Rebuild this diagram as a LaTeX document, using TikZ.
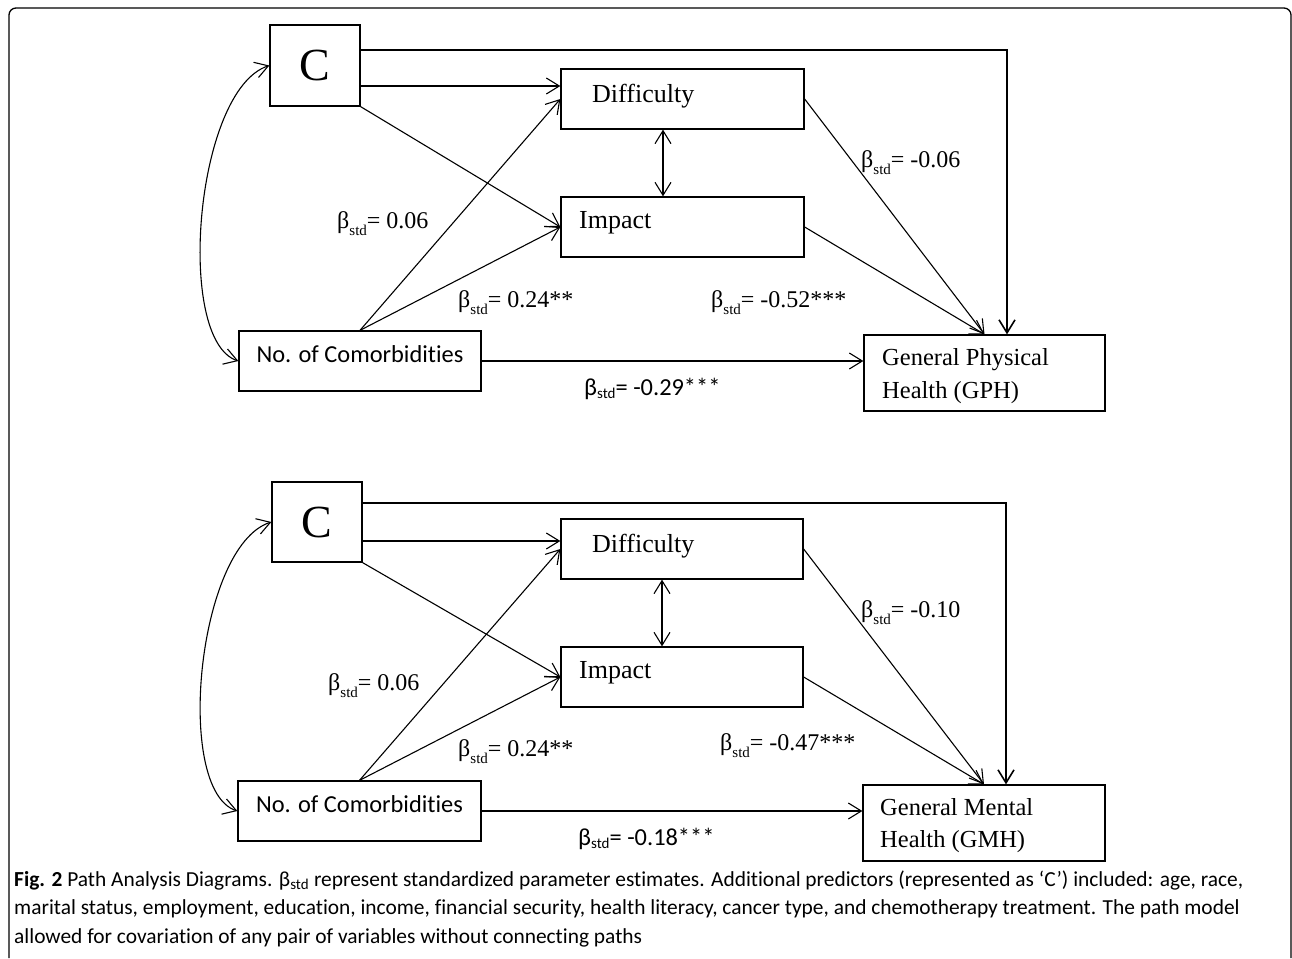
\documentclass[tikz,border=0pt]{standalone}
\usepackage{fontspec}
\setmainfont{Liberation Serif}
\newfontfamily\calibri[Ligatures=NoCommon]{Carlito}
\usetikzlibrary{arrows.meta}

\newcommand{\bstd}[1]{β\raisebox{-7pt}{\fontsize{15}{15}\selectfont std}= #1}
\newcommand{\bstdc}[1]{β\raisebox{-3pt}{\fontsize{15}{15}\selectfont std}= #1}

\begin{document}
\begin{tikzpicture}[x=1pt,y=-1pt]

	\tikzset{box/.style={draw, line width=1.3pt, inner sep=0pt},
		lbl/.style={anchor=base west, inner sep=0pt},
		arr/.style={line width=1.1pt, -{Straight Barb[length=13pt,width=16pt]}},
		dbl/.style={line width=1.1pt, {Straight Barb[length=13pt,width=16pt]}-{Straight Barb[length=13pt,width=16pt]}},
		tnr/.style={font=\fontsize{26}{26}\selectfont},
		tnrs/.style={font=\fontsize{24.5}{24.5}\selectfont},
		big/.style={font=\fontsize{46}{46}\selectfont},
		beta/.style={lbl, font=\fontsize{24}{24}\selectfont},
		cal/.style={font=\calibri\fontsize{24.4}{24.4}\selectfont},
		captext/.style={lbl, font=\calibri\fontsize{21.4}{21.4}\selectfont}}

	\useasboundingbox (0,0) rectangle (1292,958);
	\draw[line width=1.3pt, rounded corners=7pt] (9,958) -- (9,8) -- (1291,8) -- (1291,958);

	% top diagram: physical health
	\node[box, minimum width=90pt, minimum height=81pt, big] (c1) at (315,65.5) {C};
	\node[box, minimum width=243pt, minimum height=60pt] (diff1) at (682.5,99) {};
	\node[lbl, tnr] (diff1t) at (592,102) {Difficulty};
	\node[box, minimum width=243pt, minimum height=60pt] (imp1) at (682.5,227) {};
	\node[lbl, tnr] (imp1t) at (579,228) {Impact};
	\node[box, minimum width=242pt, minimum height=60pt] (com1) at (360,361) {};
	\node[anchor=base, inner sep=0pt, cal] (com1t) at (360,362) {No. of Comorbidities};
	\node[box, minimum width=241pt, minimum height=76pt] (gph1) at (984.5,373) {};
	\node[lbl, tnrs] (gph1a) at (882,365) {General Physical};
	\node[lbl, tnrs] (gph1b) at (882,398) {Health (GPH)};
	\coordinate (cr1) at (1007,50);

	\draw[arr, line width=1.6pt] (c1.east |- cr1) -- (cr1) -- (cr1 |- gph1.north);
	\draw[arr] (c1.east |- 0,86) -- (diff1.west |- 0,86);
	\draw[arr] (c1.south east) -- (imp1.west);
	\draw[arr] (com1.north) -- (diff1.west);
	\draw[arr] (com1.north) -- (imp1.west);
	\draw[dbl] (diff1.south -| 663,0) -- (imp1.north -| 663,0);
	\draw[arr] (diff1.east) -- (gph1.north);
	\draw[arr] (imp1.east) -- (gph1.north);
	\draw[arr] (com1.east) -- (com1.east -| gph1.west);
	\draw[dbl] (c1.west) .. controls (195,90) and (175,340) .. (com1.west);

	\node[beta] (b1a) at (337,228) {\bstd{0.06}};
	\node[beta] (b1b) at (458,307) {\bstd{0.24**}};
	\node[beta] (b1c) at (711,307) {\bstd{-0.52***}};
	\node[beta] (b1d) at (861,167) {\bstd{-0.06}};
	\node[lbl, cal] (b1e) at (584,395) {\bstdc{-0.29***}};

	% bottom diagram: mental health
	\node[box, minimum width=90pt, minimum height=80pt, big] (c2) at (317,522) {C};
	\node[box, minimum width=242pt, minimum height=60pt] (diff2) at (682,549) {};
	\node[lbl, tnr] (diff2t) at (592,552) {Difficulty};
	\node[box, minimum width=242pt, minimum height=60pt] (imp2) at (682,677) {};
	\node[lbl, tnr] (imp2t) at (579,678) {Impact};
	\node[box, minimum width=243pt, minimum height=60pt] (com2) at (359.5,811) {};
	\node[anchor=base, inner sep=0pt, cal] (com2t) at (359.5,812) {No. of Comorbidities};
	\node[box, minimum width=242pt, minimum height=76pt] (gmh2) at (984,823) {};
	\node[lbl, tnrs] (gmh2a) at (880,815) {General Mental};
	\node[lbl, tnrs] (gmh2b) at (880,847) {Health (GMH)};
	\coordinate (cr2) at (1006,503);

	\draw[arr, line width=1.6pt] (c2.east |- cr2) -- (cr2) -- (cr2 |- gmh2.north);
	\draw[arr] (c2.east |- 0,541) -- (diff2.west |- 0,541);
	\draw[arr] (c2.south east) -- (imp2.west);
	\draw[arr] (com2.north) -- (diff2.west);
	\draw[arr] (com2.north) -- (imp2.west);
	\draw[dbl] (diff2.south -| 662,0) -- (imp2.north -| 662,0);
	\draw[arr] (diff2.east) -- (gmh2.north);
	\draw[arr] (imp2.east) -- (gmh2.north);
	\draw[arr] (com2.east) -- (com2.east -| gmh2.west);
	\draw[dbl] (c2.west) .. controls (197,546) and (174,790) .. (com2.west);

	\node[beta] (b2a) at (328,690) {\bstd{0.06}};
	\node[beta] (b2b) at (458,756) {\bstd{0.24**}};
	\node[beta] (b2c) at (720,750) {\bstd{-0.47***}};
	\node[beta] (b2d) at (861,617) {\bstd{-0.10}};
	\node[lbl, cal] (b2e) at (578,845) {\bstdc{-0.18***}};

	% caption
	\node[captext] (cap1) at (14,886) {\textbf{Fig. 2} Path Analysis Diagrams. β\textsubscript{std} represent standardized parameter estimates. Additional predictors (represented as ‘C’) included: age, race,};
	\node[captext] (cap2) at (14,914) {marital status, employment, education, income, financial security, health literacy, cancer type, and chemotherapy treatment. The path model};
	\node[captext] (cap3) at (14,943) {allowed for covariation of any pair of variables without connecting paths};

\end{tikzpicture}
\end{document}
